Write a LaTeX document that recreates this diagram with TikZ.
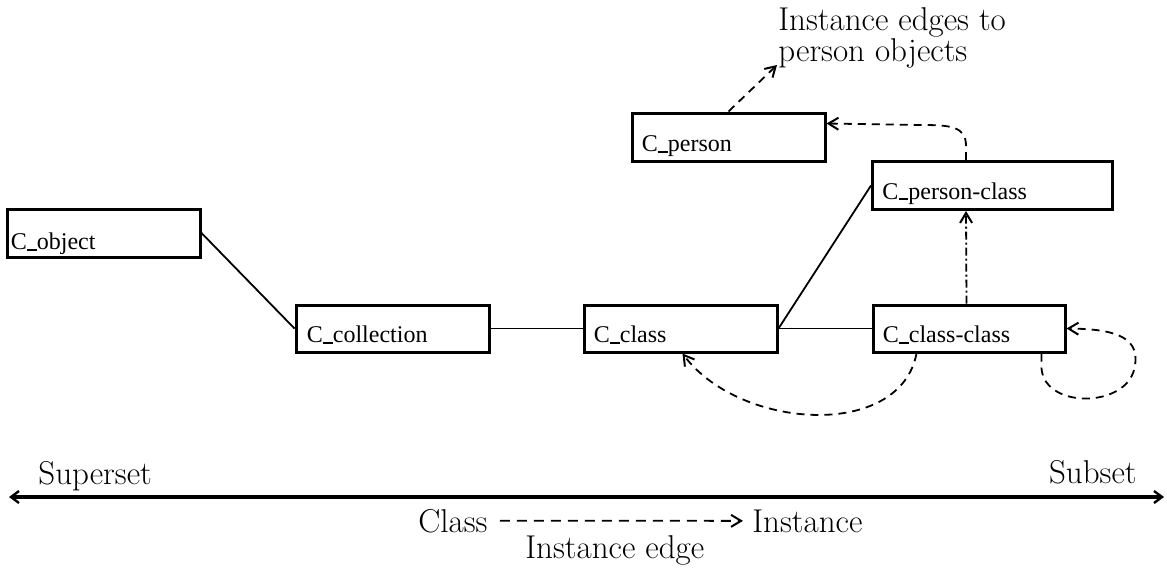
\documentclass[tikz,border=0pt]{standalone}
\usepackage{fontspec}
\newfontfamily\boxfont{Liberation Serif}
\newcommand\usc{\kern0.2pt\rule[-0.5pt]{4.6pt}{0.9pt}\kern0.2pt}
\usetikzlibrary{arrows.meta}
\begin{document}
\begin{tikzpicture}[x=0.5pt,y=-0.5pt,
  cbox/.style={draw, line width=1.5pt, rectangle, inner sep=0pt},
  ctxt/.style={inner sep=0pt, font=\boxfont\fontsize{12}{14}\selectfont},
  lbl/.style={inner sep=0pt, font=\fontsize{16.5}{15.5}\selectfont},
  conn/.style={line width=0.9pt},
  dsh/.style={line width=0.9pt, dash pattern=on 4pt off 3pt},
  dshdot/.style={line width=0.9pt, dash pattern=on 4pt off 1.5pt on 1pt off 1.5pt},
  tip/.style={-{Straight Barb[length=5pt,width=6pt,line width=1pt]}},
  axis/.style={line width=2pt, {Straight Barb[length=4pt,width=6pt,line width=1.2pt]}-{Straight Barb[length=4pt,width=6pt,line width=1.2pt]}}
]
\useasboundingbox (0,0) rectangle (1167,568);

% boxes
\node[cbox, minimum width=96.5pt, minimum height=24pt] (obj) at (103.5,233) {};
\node[cbox, minimum width=96.5pt, minimum height=23.5pt] (coll) at (392.5,328.5) {};
\node[cbox, minimum width=96.5pt, minimum height=23.5pt] (cls) at (680.5,328.5) {};
\node[cbox, minimum width=96pt, minimum height=23.5pt] (clscls) at (969,328.5) {};
\node[cbox, minimum width=120pt, minimum height=24pt] (pcls) at (992.5,185.5) {};
\node[cbox, minimum width=96.5pt, minimum height=24pt] (pers) at (728.5,137) {};

% box texts
\node[ctxt, anchor=base west] (objt) at ([xshift=2.5pt,yshift=4.5pt]obj.south west) {C\usc object};
\node[ctxt, anchor=base west] (collt) at ([xshift=6pt,yshift=5.5pt]coll.south west) {C\usc collection};
\node[ctxt, anchor=base west] (clst) at ([xshift=5.5pt,yshift=5.5pt]cls.south west) {C\usc class};
\node[ctxt, anchor=base west] (clsclst) at ([xshift=5.5pt,yshift=5.5pt]clscls.south west) {C\usc class-class};
\node[ctxt, anchor=base west] (pclst) at ([xshift=5.5pt,yshift=6pt]pcls.south west) {C\usc person-class};
\node[ctxt, anchor=base west] (perst) at ([xshift=5.5pt,yshift=5.5pt]pers.south west) {C\usc person};

% solid connectors
\draw[conn] (obj.east) -- (coll.west);
\draw[conn] (coll.east) -- (cls.west);
\draw[conn] (cls.east) -- (clscls.west);
\draw[conn] (cls.east) -- (pcls.west);

% label top
\node[lbl, anchor=north west, align=left] (toplbl) at (778,7) {Instance edges to\\person objects};
\coordinate (toptip) at (777,65);
\draw[dsh, tip] ([xshift=49pt]pers.north west) -- (toptip);

% instance edges
\draw[dsh, tip] ([xshift=47.5pt]pcls.north west) -- ++(0,-14)
  .. controls (966,126) and (950,125) .. (920,125) -- ([yshift=-6pt]pers.north east);
\draw[dshdot, tip] ([xshift=47.5pt]clscls.north west) -- ([xshift=47.5pt]pcls.south west);
\draw[dsh, tip] ([xshift=22.5pt]clscls.south west)
  .. controls (900,440) and (740,430) .. ([xshift=1pt]cls.south);
\draw[dsh, tip] ([xshift=-12.5pt]clscls.south east) -- ++(0,10)
  .. controls (1038,410) and (1130,410) .. (1135,365)
  .. controls (1140,335) and (1110,329) .. (clscls.east);

% axis
\coordinate (axL) at (9,497);
\coordinate (axR) at (1164,497);
\draw[axis] (axL) -- (axR);
\node[lbl, anchor=base west] (sup) at (38,484) {Superset};
\node[lbl, anchor=base east] (sub) at (1137,483) {Subset};

% legend
\node[lbl, anchor=base west] (clsL) at (418,532) {Class};
\node[lbl, anchor=base west] (instL) at (752,532) {Instance};
\node[lbl, anchor=base west] (edgeL) at (525,558) {Instance edge};
\draw[line width=0.9pt, dash pattern=on 5pt off 3.5pt, tip, shorten <=6pt, shorten >=4.5pt] (clsL.east) -- (instL.west);
\end{tikzpicture}
\end{document}
